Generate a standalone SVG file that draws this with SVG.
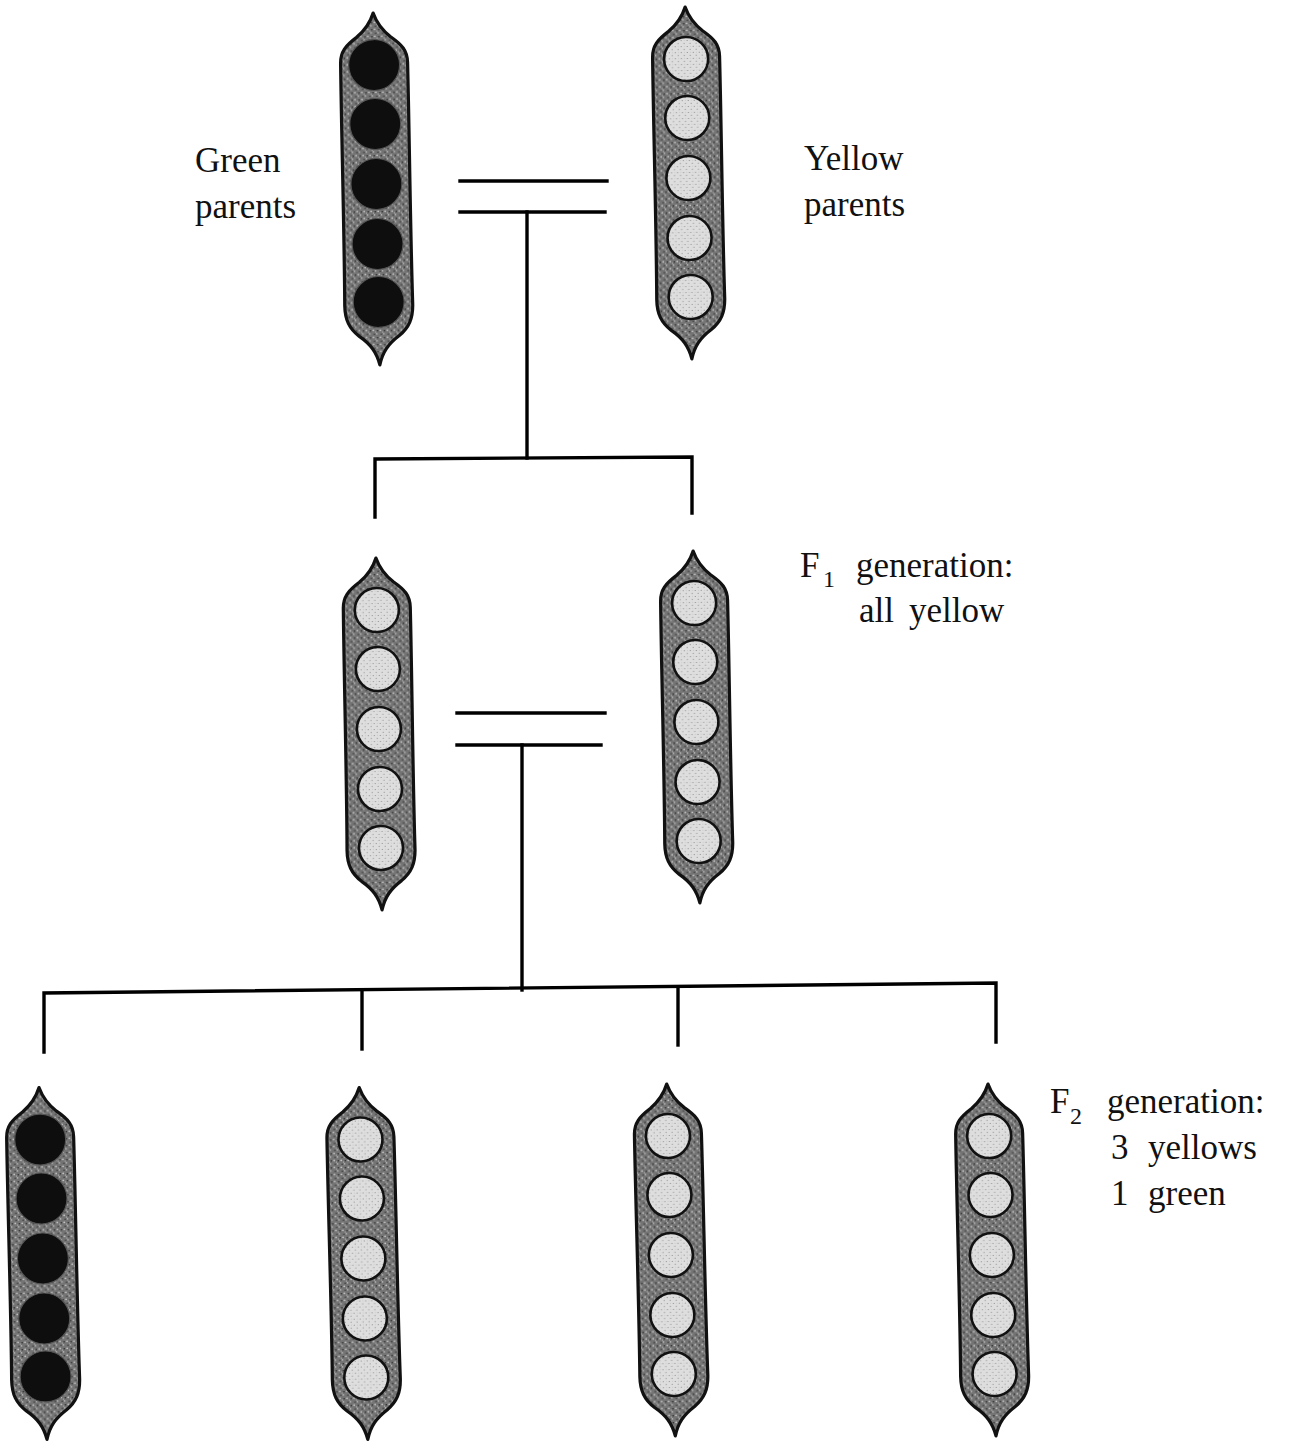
<svg xmlns="http://www.w3.org/2000/svg" width="1295" height="1443" viewBox="0 0 1295 1443">
<style>
  .pod { fill: url(#podTex); stroke: #111; stroke-width: 3.2; stroke-linejoin: round; }
  .ypea { fill: url(#peaTex); stroke: #111; stroke-width: 2.6; }
  .gpea { fill: #0e0e0e; stroke: #555; stroke-width: 1.2; }
  .ln { fill: none; stroke: #000; stroke-width: 3.4; stroke-linecap: square; }
  .lbl { font-family: "Liberation Serif", "DejaVu Serif", serif; font-size: 35px; fill: #111; }
  .sub { font-size: 24px; }
</style>
<defs>
  <pattern id="podTex" width="7" height="7" patternUnits="userSpaceOnUse">
    <rect width="7" height="7" fill="#747474"/>
    <circle cx="1.2" cy="1.3" r="0.9" fill="#c8c8c8"/>
    <circle cx="4.6" cy="4.9" r="0.8" fill="#b8b8b8"/>
    <circle cx="5.3" cy="1.8" r="0.8" fill="#2a2a2a"/>
    <circle cx="2.1" cy="5.2" r="0.7" fill="#333"/>
    <circle cx="3.4" cy="3.1" r="0.5" fill="#d6d6d6"/>
  </pattern>
  <pattern id="peaTex" width="6" height="6" patternUnits="userSpaceOnUse">
    <rect width="6" height="6" fill="#dedede"/>
    <circle cx="1.3" cy="1.5" r="0.6" fill="#858585"/>
    <circle cx="4.2" cy="4.4" r="0.55" fill="#959595"/>
    <circle cx="4.6" cy="1.2" r="0.4" fill="#aaa"/>
  </pattern>
  <path id="podShape" class="pod" d="M0,-176 C3,-167 7,-160 17,-152 C28,-144 33.5,-138 33.5,-126 C34,-60 33,40 34,116 C34,130 30,139 20,147 C9,155 3,163 0,176 C-3,163 -9,155 -20,147 C-30,139 -34,130 -34,116 C-33,40 -34,-60 -33.5,-126 C-33.5,-138 -28,-144 -17,-152 C-7,-160 -3,-167 0,-176 Z"/>
  <g id="yellowPeas">
    <circle class="ypea" cx="0" cy="-124" r="22"/>
    <circle class="ypea" cx="0" cy="-65" r="22"/>
    <circle class="ypea" cx="0" cy="-5" r="22"/>
    <circle class="ypea" cx="0" cy="55" r="22"/>
    <circle class="ypea" cx="0" cy="114" r="22"/>
  </g>
  <g id="greenPeas">
    <circle class="gpea" cx="0" cy="-124" r="25.5"/>
    <circle class="gpea" cx="0" cy="-65" r="25.5"/>
    <circle class="gpea" cx="0" cy="-5" r="25.5"/>
    <circle class="gpea" cx="0" cy="55" r="25.5"/>
    <circle class="gpea" cx="0" cy="113" r="25.5"/>
  </g>
</defs>

<g id="connectors">
  <path class="ln" d="M460,181 L607,181"/>
  <path class="ln" d="M460,212 L605,212"/>
  <path class="ln" d="M527,212 L527,458"/>
  <path class="ln" d="M375,517 L375,459 L692,457 L692,513"/>
  <path class="ln" d="M457,713 L605,713"/>
  <path class="ln" d="M457,745 L601,745"/>
  <path class="ln" d="M522,745 L522,990"/>
  <path class="ln" d="M44,1052 L44,993 L996,983 L996,1042"/>
  <path class="ln" d="M362,990 L362,1049"/>
  <path class="ln" d="M678,987 L678,1045"/>
</g>

<g id="pod-green-parent" transform="translate(376.5,189) rotate(-1.1)">
  <use href="#podShape"/>
  <use href="#greenPeas"/>
</g>
<g id="pod-yellow-parent" transform="translate(688.5,183) rotate(-1.1)">
  <use href="#podShape"/>
  <use href="#yellowPeas"/>
</g>
<g id="pod-f1-left" transform="translate(379,734) rotate(-1)">
  <use href="#podShape"/>
  <use href="#yellowPeas"/>
</g>
<g id="pod-f1-right" transform="translate(696.5,727) rotate(-1.1)">
  <use href="#podShape"/>
  <use href="#yellowPeas"/>
</g>
<g id="pod-f2-1" transform="translate(43,1263.5) rotate(-1.3)">
  <use href="#podShape"/>
  <use href="#greenPeas"/>
</g>
<g id="pod-f2-2" transform="translate(363.5,1263.5) rotate(-1.4)">
  <use href="#podShape"/>
  <use href="#yellowPeas"/>
</g>
<g id="pod-f2-3" transform="translate(671,1260) rotate(-1.4)">
  <use href="#podShape"/>
  <use href="#yellowPeas"/>
</g>
<g id="pod-f2-4" transform="translate(992,1260) rotate(-1.3)">
  <use href="#podShape"/>
  <use href="#yellowPeas"/>
</g>

<g id="label-green-parents">
  <text class="lbl" x="195" y="172">Green</text>
  <text class="lbl" x="195" y="218">parents</text>
</g>
<g id="label-yellow-parents">
  <text class="lbl" x="804" y="170">Yellow</text>
  <text class="lbl" x="804" y="216">parents</text>
</g>
<g id="label-f1">
  <text class="lbl" x="800" y="577">F<tspan class="sub" x="823" y="587">1</tspan><tspan x="856" y="577">generation:</tspan></text>
  <text class="lbl" x="859" y="622">all<tspan x="909">yellow</tspan></text>
</g>
<g id="label-f2">
  <text class="lbl" x="1050" y="1113">F<tspan class="sub" x="1070" y="1124">2</tspan><tspan x="1107" y="1113">generation:</tspan></text>
  <text class="lbl" x="1111" y="1159">3<tspan x="1148">yellows</tspan></text>
  <text class="lbl" x="1111" y="1205">1<tspan x="1148">green</tspan></text>
</g>
</svg>
